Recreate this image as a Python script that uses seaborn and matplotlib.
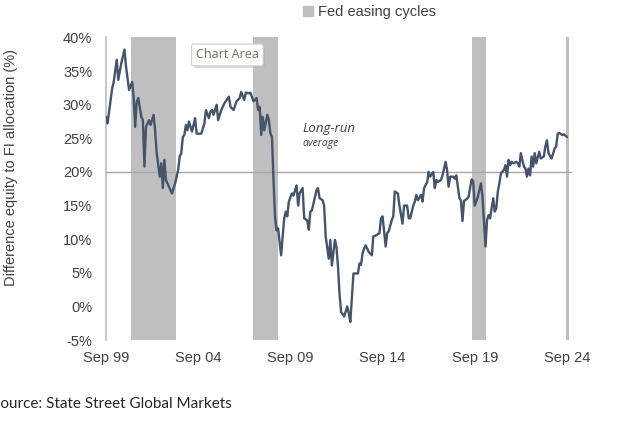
import pandas as pd
import matplotlib
matplotlib.use("Agg")
import matplotlib.pyplot as plt
import matplotlib.dates as mdates
import matplotlib.patheffects as pe
from matplotlib.lines import Line2D
from matplotlib.ticker import FuncFormatter
import seaborn as sns

# months after Sep 1999, and equity minus fixed income allocation (%)
month_offsets = [
    0, 1, 4, 5, 7, 8, 10, 12, 13, 15, 17, 18, 19, 20, 21, 23, 24, 25, 26, 28,
    29, 31, 32, 33, 35, 36, 37, 38, 39, 42, 43, 45, 47, 48, 49, 50, 51, 52, 53, 54,
    56, 58, 59, 62, 64, 65, 67, 68, 69, 70, 72, 73, 75, 77, 80, 81, 83, 85, 87, 88,
    90, 91, 93, 94, 96, 98, 99, 100, 101, 102, 103, 105, 106, 107, 108, 109, 110, 111, 112, 114,
    116, 117, 118, 119, 121, 122, 124, 125, 126, 128, 129, 131, 132, 133, 134, 136, 137, 138, 139, 141,
    142, 143, 145, 146, 147, 149, 150, 151, 152, 153, 155, 157, 158, 159, 160, 161, 163, 164, 165, 166,
    167, 168, 169, 171, 173, 174, 176, 178, 179, 180, 182, 183, 184, 186, 187, 188, 190, 191, 193, 194,
    196, 197, 198, 200, 201, 202, 203, 205, 206, 207, 209, 210, 211, 213, 214, 215, 216, 218, 219, 221,
    222, 223, 224, 226, 227, 228, 230, 231, 232, 233, 235, 236, 238, 239, 240, 242, 243, 244, 245, 247,
    248, 249, 250, 252, 253, 254, 255, 256, 257, 259, 260, 261, 262, 263, 264, 265, 267, 268, 269, 270,
    272, 273, 274, 275, 276, 277, 278, 279, 280, 282, 283, 285, 286, 287, 288, 290, 292, 293, 294, 295,
    297, 298, 300,
]
allocation_gap = [
    28.2, 27.2, 32.4, 33.4, 36.7, 33.7, 36.2, 38.2, 35.7, 32.2, 33.4, 31.2, 26.7, 30.4, 31.0, 28.2, 27.7, 20.8, 26.7, 27.7,
    27.0, 28.5, 26.2, 22.8, 19.3, 21.3, 17.6, 21.8, 18.8, 17.3, 16.8, 18.3, 20.3, 22.3, 22.8, 25.2, 25.5, 27.0, 26.2, 27.5,
    26.0, 28.0, 25.7, 25.7, 27.2, 29.2, 28.0, 29.0, 29.2, 28.5, 30.0, 27.7, 29.2, 30.2, 31.2, 29.7, 29.2, 30.5, 31.0, 31.9,
    30.7, 31.8, 31.7, 31.8, 30.5, 31.0, 29.2, 29.7, 25.5, 28.2, 26.2, 28.5, 27.7, 25.7, 25.2, 18.8, 13.3, 11.3, 11.6, 7.6,
    13.1, 14.1, 13.4, 15.6, 16.8, 16.5, 18.0, 15.0, 16.8, 17.6, 13.1, 12.8, 11.4, 14.1, 14.3, 16.3, 17.3, 17.6, 16.1, 15.8,
    15.0, 10.4, 7.1, 9.9, 6.1, 9.9, 8.9, 5.9, 1.9, -0.8, -1.5, 0.0, -1.0, -2.3, 1.4, 4.9, 4.9, 4.9, 6.4, 6.2,
    7.9, 8.6, 9.1, 8.1, 7.6, 10.4, 10.6, 10.9, 13.1, 13.4, 8.9, 10.9, 11.2, 12.8, 13.4, 17.1, 16.8, 15.0, 12.3, 15.0,
    15.0, 13.1, 13.1, 15.0, 15.6, 16.6, 15.8, 16.6, 15.6, 17.6, 18.5, 20.0, 19.3, 20.0, 17.6, 18.8, 18.5, 18.8, 19.5, 21.5,
    20.3, 17.8, 19.3, 19.3, 19.0, 19.5, 16.1, 15.8, 12.7, 15.7, 16.0, 16.3, 18.9, 18.6, 15.0, 16.3, 17.3, 18.3, 16.3, 8.9,
    12.8, 13.6, 13.1, 16.1, 14.1, 14.6, 17.1, 18.3, 19.8, 20.3, 21.0, 19.3, 21.8, 21.0, 21.5, 21.3, 21.5, 21.3, 20.8, 22.8,
    20.8, 20.5, 19.3, 20.5, 19.5, 22.3, 20.8, 22.8, 21.3, 23.0, 22.0, 22.3, 23.8, 24.7, 22.8, 22.0, 23.5, 23.8, 25.7, 25.8,
    25.5, 25.6, 25.2,
]
easing_starts = ["2001-01-01", "2007-08-15", "2019-07-01", "2024-08-15"]
easing_ends = ["2003-06-15", "2009-01-01", "2020-04-10", "2024-10-05"]
long_run_average = 20
x_ticks = ["1999-09-01", "2004-09-01", "2009-09-01", "2014-09-01", "2019-09-01", "2024-09-01"]

start = pd.Timestamp("1999-09-01")
df = pd.DataFrame({
    "date": [start + pd.DateOffset(months=m) for m in month_offsets],
    "gap": allocation_gap,
})

sns.set_style("white")
plt.rcParams["font.family"] = ["Liberation Sans", "DejaVu Sans"]

fig = plt.figure(figsize=(6.37, 4.24), dpi=100)
ax = fig.add_axes([0.1664, 0.198, 0.7316, 0.7136])

for s, e in zip(easing_starts, easing_ends):
    ax.axvspan(pd.Timestamp(s), pd.Timestamp(e), color="#bfbfbf", lw=0, zorder=1)

ax.axhline(long_run_average, color="#a6a6a6", lw=1.0, zorder=2)
sns.lineplot(data=df, x="date", y="gap", color="#44546a", lw=1.7, ax=ax, zorder=3)

ax.set_xlim(pd.Timestamp("1999-09-01"), pd.Timestamp("2024-12-10"))
ax.set_ylim(-5, 40)
ax.set_yticks(range(-5, 41, 5))
ax.yaxis.set_major_formatter(FuncFormatter(lambda v, p: f"{v:.0f}%"))
ax.set_xticks([pd.Timestamp(t) for t in x_ticks])
ax.xaxis.set_major_formatter(mdates.DateFormatter("%b %y"))
ax.tick_params(axis="both", length=0, labelsize=10.5, labelcolor="#404040")
ax.tick_params(axis="y", pad=10)
ax.tick_params(axis="x", pad=8)
ax.set_xlabel("")
ax.set_ylabel("")

for side in ["top", "right", "bottom"]:
    ax.spines[side].set_visible(False)
ax.spines["left"].set_color("#bfbfbf")
ax.spines["left"].set_linewidth(1.2)

fig.text(0.017, 0.605, "Difference equity to FI allocation (%)", rotation=90,
         ha="center", va="center", fontsize=10.5, color="#404040")

ax.text(pd.Timestamp("2010-05-01"), 26.5, "Long-run", fontsize=9.5, style="italic",
        family=["Open Sans", "DejaVu Sans"], color="#404040", ha="left", va="center")
ax.text(pd.Timestamp("2010-05-01"), 24.3, "average", fontsize=7.5, style="italic",
        family=["Open Sans", "DejaVu Sans"], color="#404040", ha="left", va="center")

# the "Chart Area" tooltip, with a soft drop shadow on its box
tip = ax.text(pd.Timestamp("2006-04-01"), 37.4, "Chart Area", fontsize=9,
              family=["Open Sans", "DejaVu Sans"], color="#7a6a5e", ha="center", va="center",
              bbox=dict(boxstyle="round,pad=0.35,rounding_size=0.2", fc="white", ec="#d0d0d0", lw=0.8),
              zorder=6)
tip.get_bbox_patch().set_path_effects(
    [pe.SimplePatchShadow(offset=(1.5, -1.5), shadow_rgbFace="#b0b0b0", alpha=0.5), pe.Normal()])

handle = Line2D([], [], marker="s", color="#bfbfbf", linestyle="none", markersize=7)
fig.legend([handle], ["Fed easing cycles"], loc="center", bbox_to_anchor=(0.573, 0.972),
           frameon=False, fontsize=10.5, handletextpad=-0.3, borderpad=0,
           labelcolor="#404040")

fig.text(-0.012, 0.047, "Source: State Street Global Markets", fontsize=11,
         family=["Lato", "DejaVu Sans"], color="#262626", ha="left", va="center")

fig.savefig("out.png", dpi=100)
